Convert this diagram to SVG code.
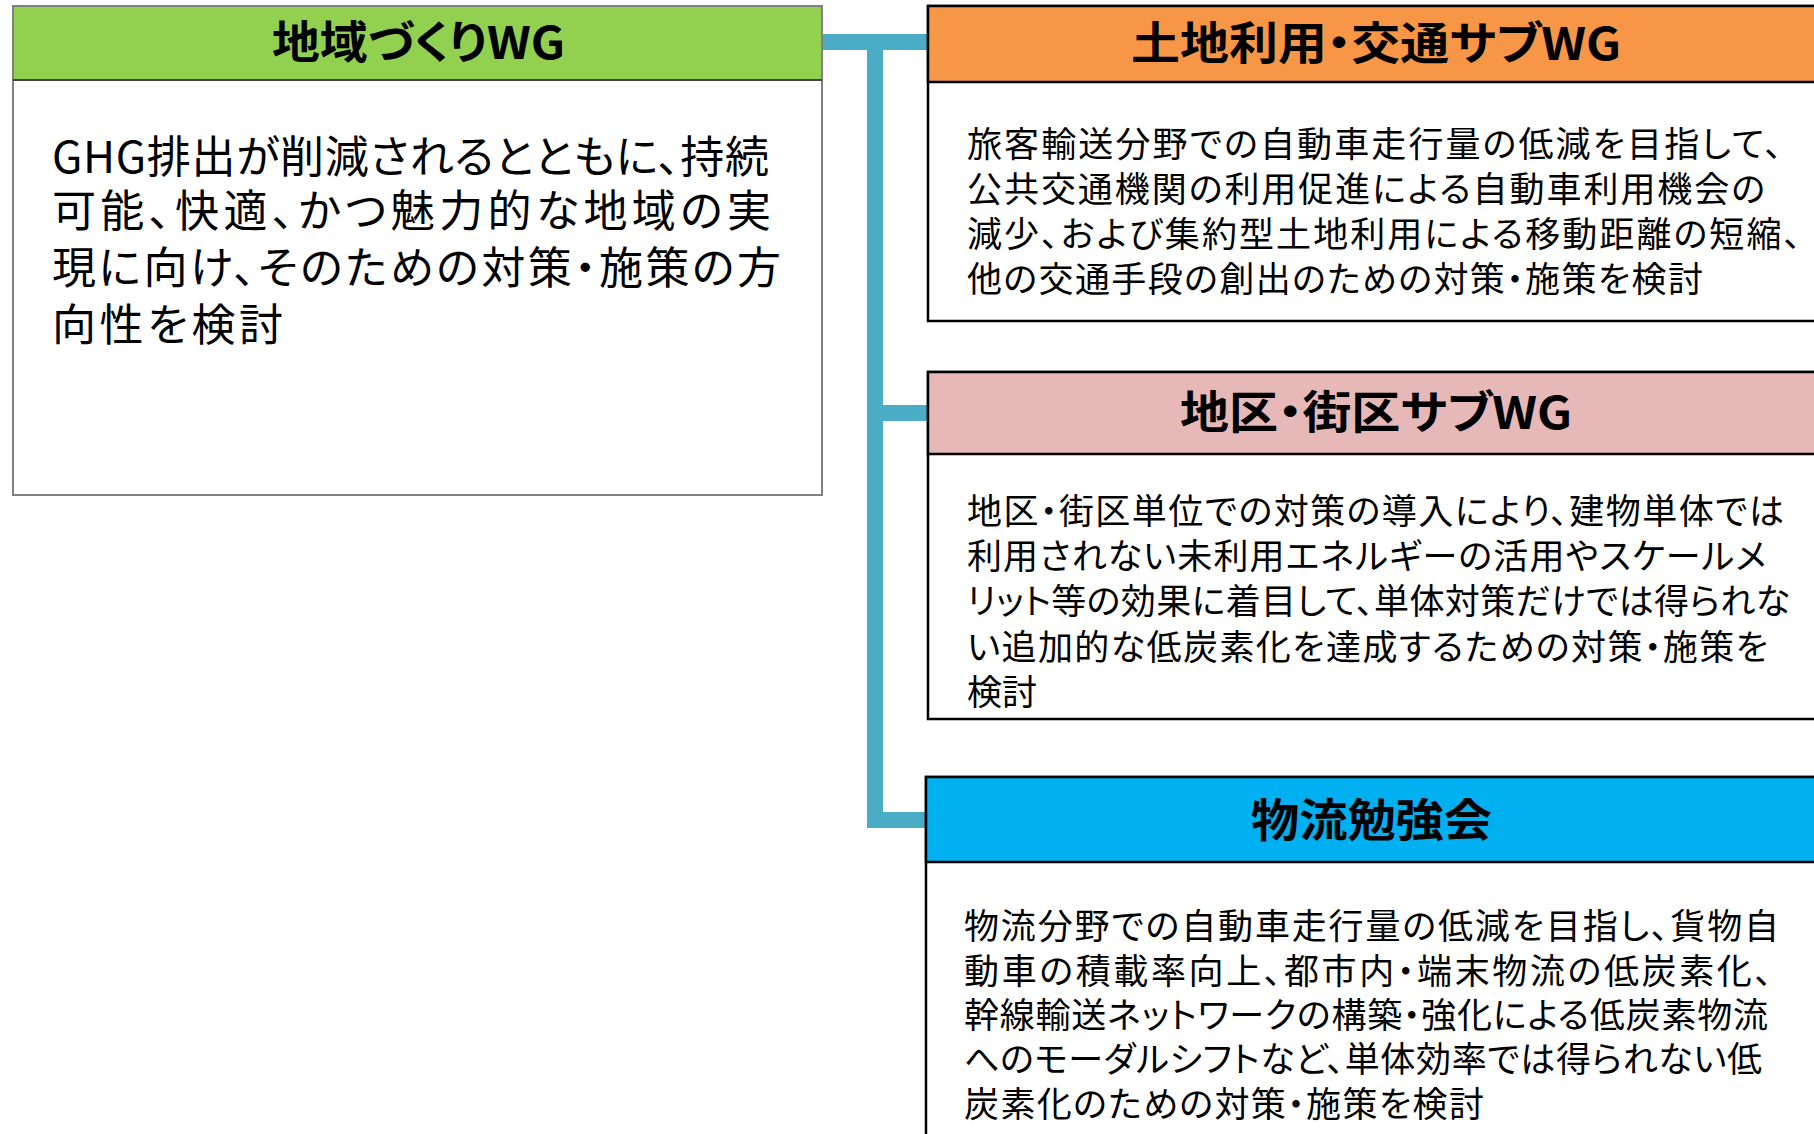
<svg xmlns="http://www.w3.org/2000/svg" width="1814" height="1134" viewBox="0 0 1814 1134">
<style>
text { font-family: "Noto Sans CJK JP", "Noto Sans CJK SC", sans-serif; fill: #000; font-feature-settings: "palt" 1; }
.h { font-size: 45px; font-weight: bold; }
.b { font-size: 44px; }
.s { font-size: 35px; }
.lbox { fill: #fff; stroke: #808080; stroke-width: 2; }
.rbox { fill: #fff; stroke: #000; stroke-width: 2.5; }
.conn { fill: none; stroke: #4BACC6; stroke-width: 16; stroke-linecap: butt; }
</style>
<rect width="1814" height="1134" fill="#fff"/>
<g id="connectors">
<path class="conn" d="M823 42 H928"/>
<path class="conn" d="M875 34 V828"/>
<path class="conn" d="M875 413 H928"/>
<path class="conn" d="M867 820 H926"/>
</g>
<g id="node-chiiki">
<rect class="lbox" x="13" y="6" width="809" height="489"/>
<rect x="13" y="6" width="809" height="74" fill="#92D050" stroke="#808080" stroke-width="2"/>
<line x1="13" y1="80" x2="822" y2="80" stroke="#404040" stroke-width="2"/>
<text class="h" x="272" y="59" textLength="293" lengthAdjust="spacingAndGlyphs">地域づくりWG</text>
<text class="b"><tspan x="52" y="173" textLength="717" lengthAdjust="spacing">GHG排出が削減されるとともに、持続</tspan><tspan x="52" y="227" textLength="719" lengthAdjust="spacing">可能、快適、かつ魅力的な地域の実</tspan><tspan x="52" y="284" textLength="729" lengthAdjust="spacing">現に向け、そのための対策・施策の方</tspan><tspan x="52" y="341" textLength="231" lengthAdjust="spacing">向性を検討</tspan></text>
</g>
<g id="node-tochi">
<rect class="rbox" x="928" y="6" width="900" height="315"/>
<rect x="928" y="6" width="900" height="76" fill="#F79646" stroke="#000" stroke-width="2.5"/>
<text class="h" x="1131" y="60" textLength="490" lengthAdjust="spacingAndGlyphs">土地利用・交通サブWG</text>
<text class="s"><tspan x="967" y="157" textLength="815" lengthAdjust="spacing">旅客輸送分野での自動車走行量の低減を目指して、</tspan><tspan x="967" y="202" textLength="798" lengthAdjust="spacing">公共交通機関の利用促進による自動車利用機会の</tspan><tspan x="967" y="247" textLength="834" lengthAdjust="spacing">減少、および集約型土地利用による移動距離の短縮、</tspan><tspan x="967" y="292" textLength="736" lengthAdjust="spacing">他の交通手段の創出のための対策・施策を検討</tspan></text>
</g>
<g id="node-chiku">
<rect class="rbox" x="928" y="372" width="900" height="347"/>
<rect x="928" y="372" width="900" height="82" fill="#E6B9B8" stroke="#000" stroke-width="2.5"/>
<text class="h" x="1180" y="429" textLength="392" lengthAdjust="spacingAndGlyphs">地区・街区サブWG</text>
<text class="s"><tspan x="967" y="524" textLength="817" lengthAdjust="spacing">地区・街区単位での対策の導入により、建物単体では</tspan><tspan x="967" y="569" textLength="799" lengthAdjust="spacing">利用されない未利用エネルギーの活用やスケールメ</tspan><tspan x="967" y="614" textLength="823" lengthAdjust="spacing">リット等の効果に着目して、単体対策だけでは得られな</tspan><tspan x="967" y="660" textLength="801" lengthAdjust="spacing">い追加的な低炭素化を達成するための対策・施策を</tspan><tspan x="967" y="705">検討</tspan></text>
</g>
<g id="node-butsuryu">
<rect class="rbox" x="926" y="777" width="900" height="370"/>
<rect x="926" y="777" width="900" height="85" fill="#00B0F0" stroke="#000" stroke-width="2.5"/>
<text class="h" x="1251" y="837" textLength="241" lengthAdjust="spacingAndGlyphs">物流勉強会</text>
<text class="s"><tspan x="964" y="939" textLength="815" lengthAdjust="spacing">物流分野での自動車走行量の低減を目指し、貨物自</tspan><tspan x="964" y="984" textLength="808" lengthAdjust="spacing">動車の積載率向上、都市内・端末物流の低炭素化、</tspan><tspan x="964" y="1028" textLength="804" lengthAdjust="spacing">幹線輸送ネットワークの構築・強化による低炭素物流</tspan><tspan x="964" y="1072" textLength="798" lengthAdjust="spacing">へのモーダルシフトなど、単体効率では得られない低</tspan><tspan x="964" y="1117" textLength="520" lengthAdjust="spacing">炭素化のための対策・施策を検討</tspan></text>
</g>
</svg>
